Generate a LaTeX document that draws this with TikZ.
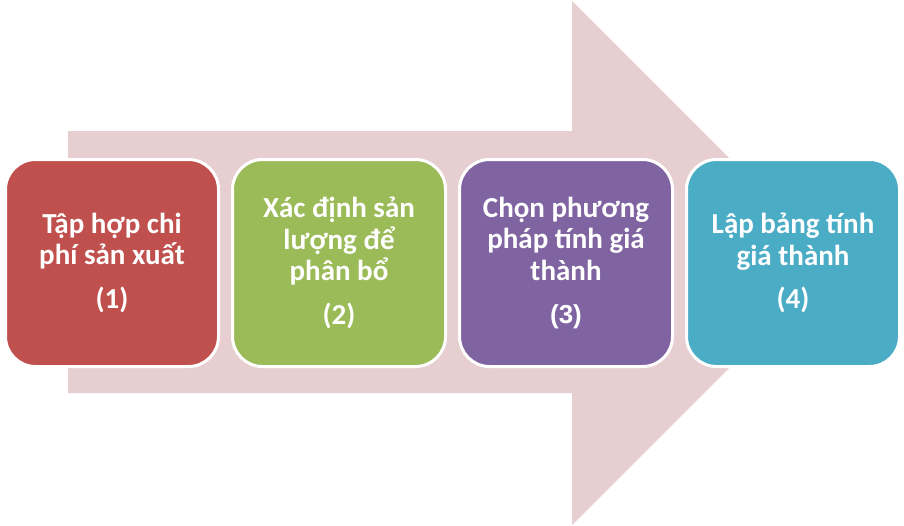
\documentclass[tikz,border=0pt]{standalone}
\usepackage{fontspec}
\setmainfont{Carlito}
\newfontfamily\numarial{Liberation Sans}
\definecolor{arrowpink}{RGB}{231,206,208}
\definecolor{cred}{HTML}{C0504D}
\definecolor{cgreen}{HTML}{9BBB59}
\definecolor{cpurple}{HTML}{8064A2}
\definecolor{cteal}{HTML}{4BACC6}
\tikzset{
  stepbox/.style={draw=white, line width=3pt, rounded corners=30pt,
    minimum width=213pt, minimum height=207pt, text width=205pt,
    align=flush center, text=white, inner sep=0pt,
    font=\fontsize{29}{31.5}\selectfont\bfseries},
}
\begin{document}
\begin{tikzpicture}[x=1pt,y=-1pt]
\useasboundingbox (0,0) rectangle (904,525);
\fill[white] (0,0) rectangle (904,525);
\fill[arrowpink] (68,131) -- (572,131) -- (572,1) -- (834,263) -- (572,525)
  -- (572,393) -- (68,393) -- cycle;
\node[stepbox, fill=cred] (b1) at (112,263)
  {Tập hợp chi\\phí sản xuất\\[12pt](1)};
\node[stepbox, fill=cgreen] (b2) at (339,263)
  {Xác định sản\\lượng để\\phân bổ\\[12pt](2)};
\node[stepbox, fill=cpurple] (b3) at (566,263)
  {Chọn phương\\pháp tính giá\\thành\\[12pt]{\numarial\fontsize{26}{30}\selectfont\bfseries(3)}};
\node[stepbox, fill=cteal] (b4) at (793,263)
  {Lập bảng tính\\giá thành\\[12pt](4)};
\end{tikzpicture}
\end{document}
